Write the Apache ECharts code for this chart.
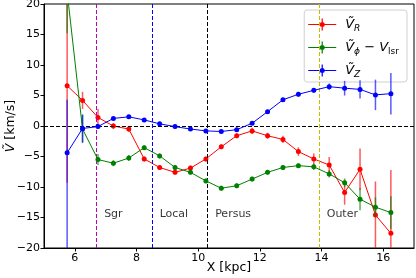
<!DOCTYPE html>
<html><head><meta charset="utf-8">
<script src="https://cdn.jsdelivr.net/npm/echarts@6/dist/echarts.min.js"></script>
<style>html,body{margin:0;padding:0;background:#fff}#c{width:416px;height:278px}</style>
</head><body><div id="c"></div>
<script>
// ---- data ----
const xs = [5.75, 6.25, 6.75, 7.25, 7.75, 8.25, 8.75, 9.25, 9.75, 10.25, 10.75, 11.25, 11.75, 12.25, 12.75, 13.25, 13.75, 14.25, 14.75, 15.25, 15.75, 16.25];
const vR   = [6.6, 4.2, 1.4, 0.0, -0.5, -5.4, -6.8, -7.6, -6.9, -5.4, -3.4, -1.6, -0.8, -1.6, -2.2, -4.2, -5.4, -6.4, -10.9, -7.1, -14.6, -17.6];
const errR = [15.9, 1.4, 1.4, 0.5, 0.5, 0.4, 0.4, 0.4, 0.4, 0.4, 0.4, 0.4, 0.5, 0.5, 0.6, 0.7, 0.9, 1.3, 2.0, 3.4, 5.5, 10.4];
const vG   = [22, -0.5, -5.5, -6.1, -5.25, -3.55, -4.9, -6.8, -7.6, -9.0, -10.2, -9.8, -8.7, -7.6, -6.8, -6.5, -6.7, -7.85, -9.3, -12.0, -13.3, -14.2];
const errG = [6.8, 2.3, 0.9, 0.5, 0.5, 0.4, 0.4, 0.4, 0.4, 0.4, 0.4, 0.4, 0.4, 0.4, 0.4, 0.4, 0.5, 0.6, 0.7, 1.8, 1.6, 2.7];
const vZ   = [-4.4, -0.4, -0.1, 1.25, 1.5, 1.0, 0.35, -0.1, -0.5, -0.8, -0.9, -0.6, 0.45, 2.35, 4.3, 5.2, 5.85, 6.45, 6.2, 6.0, 5.1, 5.3];
const errZLow  = [16.0, 2.3, 0.4, 0.3, 0.3, 0.3, 0.3, 0.3, 0.3, 0.3, 0.3, 0.3, 0.3, 0.3, 0.3, 0.4, 0.4, 0.5, 1.2, 1.5, 2.5, 3.4];
const errZHigh = [8.7, 2.3, 0.4, 0.3, 0.3, 0.3, 0.3, 0.3, 0.3, 0.3, 0.3, 0.3, 0.3, 0.3, 0.3, 0.4, 0.4, 0.5, 1.2, 1.5, 2.5, 3.4];
const vlineX = [6.7, 8.5, 10.3, 13.92];
const regionNames = ['Sgr', 'Local', 'Persus', 'Outer'];
const regionX = [6.95, 8.75, 10.55, 14.17];
const regionY = [-14.4, -14.4, -14.4, -14.4];
const xTicks = [6, 8, 10, 12, 14, 16];

// ---- styles ----
const F = 'DejaVu Sans';
const RED = '#ff0000', GREEN = '#008000', BLUE = '#0000ff';
const vlineColors = ['#bf00bf', '#0000ff', '#000000', '#bfbf00'];
const ICON = 'path://M0,5.5L28,5.5L28,6.5L0,6.5Z M13.4,0L14.6,0L14.6,12L13.4,12Z M16.5,6A2.5,2.5 0 1 1 11.5,6A2.5,2.5 0 1 1 16.5,6Z';

function errSeries(color, vals, lo, hi, z) {
  return {
    type: 'custom', z, silent: true, animation: false,
    encode: {x: 0, y: 1},
    data: xs.map((x, i) => [x, vals[i], lo[i], hi[i]]),
    renderItem(params, api) {
      const x = api.value(0), v = api.value(1);
      const p1 = api.coord([x, v - api.value(2)]);
      const p2 = api.coord([x, v + api.value(3)]);
      const cs = params.coordSys;
      const top = cs.y, bot = cs.y + cs.height;
      const c = y => Math.min(Math.max(y, top), bot);
      return {type: 'line', shape: {x1: p1[0], y1: c(p1[1]), x2: p1[0], y2: c(p2[1])},
        style: {stroke: color, lineWidth: 1.5, opacity: 0.65}};
    }
  };
}
function lineSeries(name, color, vals, z, extra) {
  return Object.assign({
    type: 'line', name, z, animation: false, clip: true,
    data: xs.map((x, i) => [x, vals[i]]),
    symbol: 'circle', symbolSize: 5, showSymbol: true,
    itemStyle: {color}, lineStyle: {color, width: 1}
  }, extra || {});
}
const minus = v => v < 0 ? '\u2212' + (-v) : String(v);

const chart = echarts.init(document.getElementById('c'), null, {renderer: 'canvas'});
chart.setOption({
  animation: false,
  grid: {left: 44, right: 2, top: 4, bottom: 30, containLabel: false, outerBoundsMode: 'none',
    show: true, borderColor: '#000', borderWidth: 1, backgroundColor: 'transparent'},
  legend: {
    orient: 'vertical', right: 9, top: 10, itemWidth: 28, itemHeight: 12, itemGap: 6,
    padding: [6, 8, 3, 4], borderColor: '#d0d0d0', borderWidth: 1, borderRadius: 3,
    backgroundColor: 'rgba(255,255,255,0.85)', selectedMode: false,
    data: [{name: 'R', icon: ICON}, {name: 'phi', icon: ICON}, {name: 'Z', icon: ICON}],
    formatter: n => ({R: '{v|Ṽ}{s|R}', phi: '{v|Ṽ}{s|ϕ}{m| − }{v|V}{r|lsr}', Z: '{v|Ṽ}{s|Z}'})[n],
    textStyle: {
      padding: [0, 0, 0, 4],
      rich: {
        v: {fontFamily: F, fontStyle: 'italic', fontSize: 13, lineHeight: 18, color: '#000'},
        s: {fontFamily: F, fontStyle: 'italic', fontSize: 9, lineHeight: 10, padding: [8, 0, 0, 0], color: '#000'},
        r: {fontFamily: F, fontSize: 9, lineHeight: 10, padding: [8, 0, 0, 0], color: '#000'},
        m: {fontFamily: F, fontSize: 13, lineHeight: 18, color: '#000'}
      }
    }
  },
  xAxis: {
    type: 'value', min: 5, max: 17, interval: 1,
    axisLine: {show: true, onZero: false, lineStyle: {color: '#000', width: 1}},
    axisTick: {show: true, customValues: xTicks, length: 3.5, lineStyle: {color: '#000'}},
    axisLabel: {customValues: xTicks, color: '#000', fontFamily: F, fontSize: 11, margin: 5},
    splitLine: {show: false},
    name: 'X [kpc]', nameLocation: 'middle', nameGap: 13, nameMoveOverlap: false,
    nameTextStyle: {fontFamily: F, fontSize: 12.5, color: '#000', verticalAlign: 'top'}
  },
  yAxis: {
    type: 'value', min: -20, max: 20, interval: 5,
    axisLine: {show: true, onZero: false, lineStyle: {color: '#000', width: 1}},
    axisTick: {show: true, length: 3.5, lineStyle: {color: '#000'}},
    axisLabel: {color: '#000', fontFamily: F, fontSize: 11, margin: 4, formatter: minus},
    splitLine: {show: false},
    name: '{v|Ṽ} [km/s]', nameLocation: 'middle', nameGap: 27, nameRotate: 90, nameMoveOverlap: false,
    nameTextStyle: {fontFamily: F, fontSize: 12.5, color: '#000',
      rich: {v: {fontFamily: F, fontStyle: 'italic', fontSize: 12.5, color: '#000'}}}
  },
  series: [
    errSeries(RED, vR, errR, errR, 2),
    lineSeries('R', RED, vR, 3, {
      markLine: {
        silent: true, symbol: 'none', label: {show: false}, animation: false,
        data: [{yAxis: 0, lineStyle: {color: '#000', type: [4, 2], width: 1}}]
          .concat(vlineX.map((x, i) => ({xAxis: x, lineStyle: {color: vlineColors[i], type: [4, 2], width: 1}})))
      }
    }),
    errSeries(GREEN, vG, errG, errG, 4),
    lineSeries('phi', GREEN, vG, 5),
    errSeries(BLUE, vZ, errZLow, errZHigh, 6),
    lineSeries('Z', BLUE, vZ, 7),
    {
      type: 'scatter', silent: true, animation: false, symbolSize: 0,
      itemStyle: {color: 'rgba(0,0,0,0)'},
      data: regionX.map((x, i) => [x, regionY[i], regionNames[i]]),
      label: {show: true, position: 'right', distance: 0, formatter: p => p.data[2],
        color: '#000', fontFamily: F, fontSize: 11}
    }
  ]
});
</script></body></html>
